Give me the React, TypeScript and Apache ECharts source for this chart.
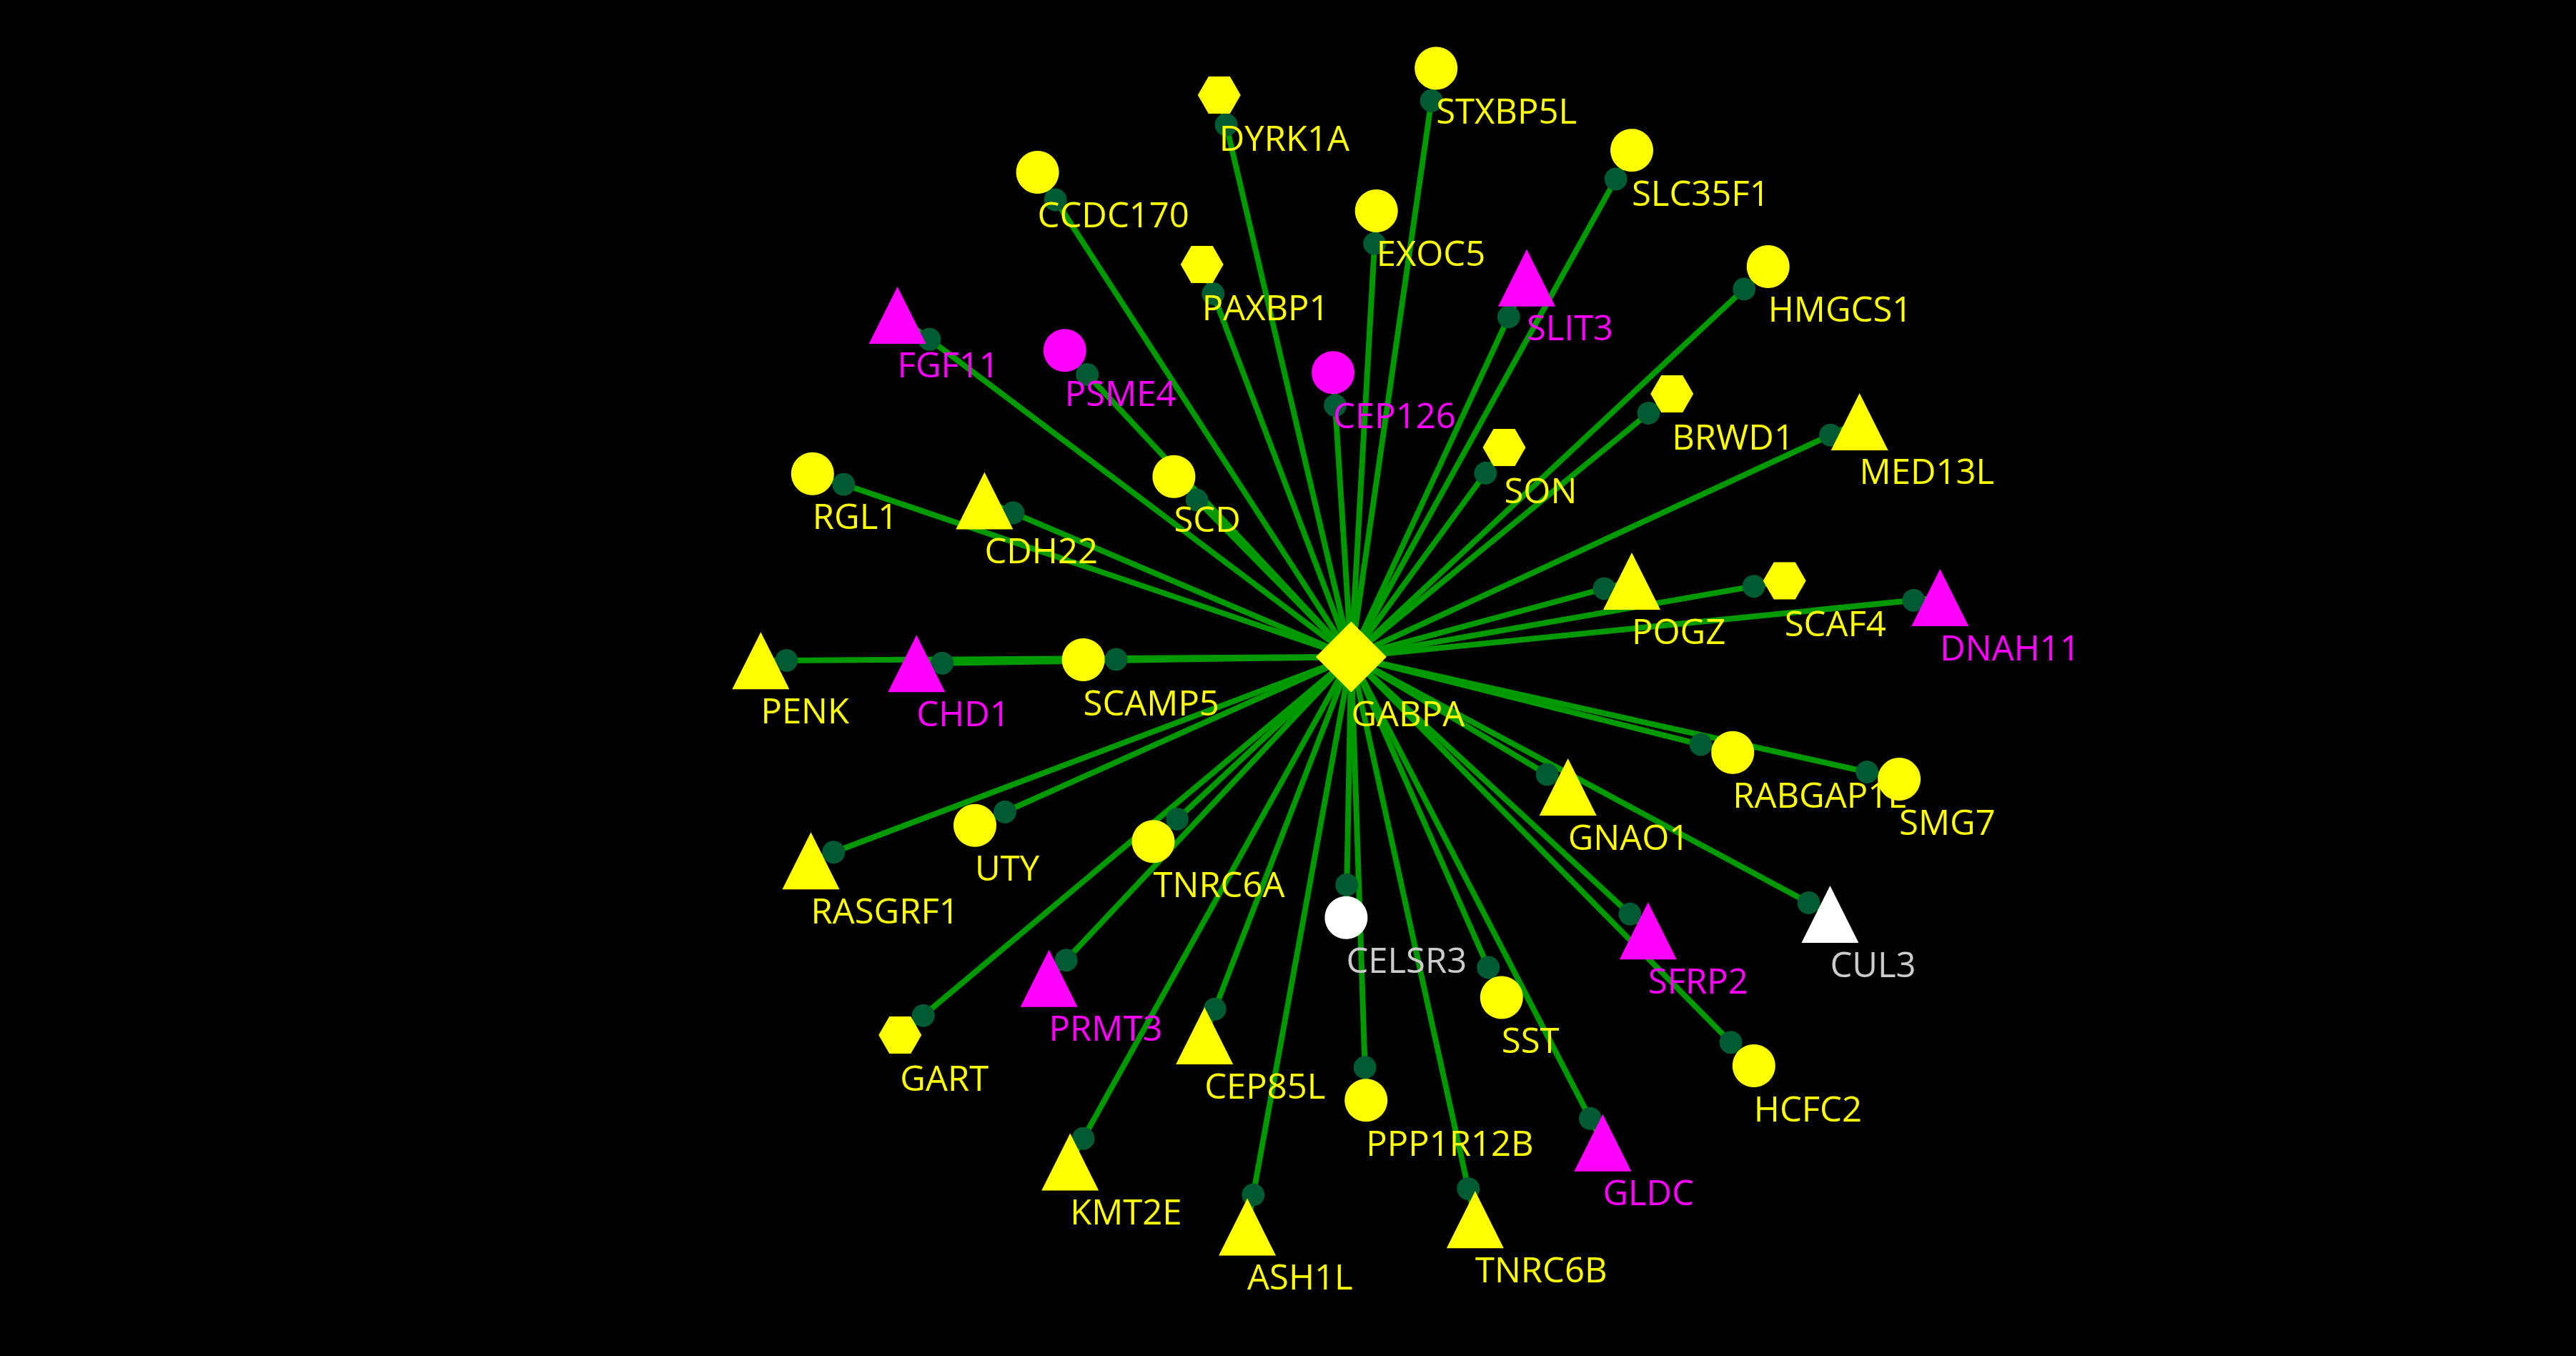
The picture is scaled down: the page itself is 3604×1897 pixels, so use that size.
import React, { useEffect, useRef } from "react";
import * as echarts from "echarts";

// ---------- data ----------
const HUB = "GABPA";

const nodeNames = [
  "GABPA", "STXBP5L", "DYRK1A", "SLC35F1", "CCDC170", "EXOC5", "HMGCS1", "PAXBP1",
  "SLIT3", "FGF11", "PSME4", "CEP126", "BRWD1", "MED13L", "SON", "RGL1",
  "SCD", "CDH22", "POGZ", "SCAF4", "DNAH11", "PENK", "CHD1", "SCAMP5",
  "RABGAP1L", "SMG7", "GNAO1", "UTY", "RASGRF1", "TNRC6A", "CELSR3", "CUL3",
  "SFRP2", "PRMT3", "GART", "SST", "CEP85L", "HCFC2", "PPP1R12B", "GLDC",
  "KMT2E", "ASH1L", "TNRC6B",
];

// layout positions of the network (x to the right, y downwards)
const nodeX = [
  1890.4, 2009.2, 1705.8, 2283.0, 1451.6, 1925.7, 2473.7, 1681.7,
  2136.0, 1255.6, 1489.8, 1865.1, 2339.2, 2601.6, 2104.5, 1136.8,
  1642.4, 1377.4, 2283.0, 2496.7, 2714.3, 1064.4, 1282.3, 1515.6,
  2424.2, 2657.1, 2193.7, 1364.0, 1134.5, 1613.5, 1883.4, 2560.4,
  2305.8, 1467.6, 1259.3, 2100.8, 1685.2, 2453.8, 1911.2, 2242.4,
  1497.2, 1745.1, 2063.9,
];
const nodeY = [
  918.9, 95.4, 133.0, 210.2, 240.9, 294.9, 372.9, 370.0,
  388.7, 440.9, 490.3, 521.3, 551.1, 589.9, 626.0, 662.8,
  666.8, 700.4, 813.0, 812.6, 836.1, 924.2, 928.3, 923.0,
  1052.8, 1090.1, 1101.0, 1154.7, 1204.3, 1177.3, 1283.8, 1279.0,
  1302.2, 1368.8, 1448.0, 1395.5, 1449.1, 1491.0, 1539.2, 1598.7,
  1625.6, 1716.6, 1706.3,
];
const nodeShapes = [
  "diamond", "circle", "hexagon", "circle", "circle", "circle", "circle", "hexagon",
  "triangle", "triangle", "circle", "circle", "hexagon", "triangle", "hexagon", "circle",
  "circle", "triangle", "triangle", "hexagon", "triangle", "triangle", "triangle", "circle",
  "circle", "circle", "triangle", "circle", "triangle", "circle", "circle", "triangle",
  "triangle", "triangle", "hexagon", "circle", "triangle", "circle", "circle", "triangle",
  "triangle", "triangle", "triangle",
];
const nodeGroups = [
  "Y", "Y", "Y", "Y", "Y", "Y", "Y", "Y",
  "M", "M", "M", "M", "Y", "Y", "Y", "Y",
  "Y", "Y", "Y", "Y", "M", "Y", "M", "Y",
  "Y", "Y", "Y", "Y", "Y", "Y", "W", "W",
  "M", "M", "Y", "Y", "Y", "Y", "Y", "M",
  "Y", "Y", "Y",
];

// ---------- styles ----------
const VIEW_W = 3604;
const VIEW_H = 1897;

const SYMBOLS: Record<string, string> = {
  circle: "circle",
  triangle: "triangle",
  diamond: "diamond",
  hexagon: "path://M0,26L15,0L45,0L60,26L45,52L15,52Z",
};
const SIZES: Record<string, number[]> = {
  circle: [60, 60],
  triangle: [80, 80],
  diamond: [99, 99],
  hexagon: [60, 52],
};
const LABEL_BOX: Record<string, number[]> = {
  circle: [60, 60],
  triangle: [80, 80],
  diamond: [99, 99],
  hexagon: [60, 60],
};
const FILLS: Record<string, string> = { Y: "#ffff00", M: "#ff00ff", W: "#ffffff" };
const TEXT_COLORS: Record<string, string> = { Y: "#ffff00", M: "#ff00ff", W: "#cccccc" };
const EDGE_COLOR = "#009900";
const DOT_COLOR = "#005a32";
const DOT_SIZE = 32;
const EDGE_WIDTH = 8;
const FONT = "'Open Sans', 'Noto Sans', sans-serif";
const FONT_SIZE = 49;

function outline(shape: string): number[][] {
  const [w, h] = SIZES[shape];
  if (shape === "triangle") return [[0, -h / 2], [w / 2, h / 2], [-w / 2, h / 2]];
  if (shape === "hexagon")
    return [[-w / 2, 0], [-w / 4, -h / 2], [w / 4, -h / 2], [w / 2, 0], [w / 4, h / 2], [-w / 4, h / 2]];
  return [[0, -h / 2], [w / 2, 0], [0, h / 2], [-w / 2, 0]];
}

// distance from the node centre to its outline along direction (dx, dy)
function boundaryDistance(shape: string, dx: number, dy: number): number {
  if (shape === "circle") return SIZES.circle[0] / 2;
  const pts = outline(shape);
  let best = Infinity;
  for (let i = 0; i < pts.length; i++) {
    const p1 = pts[i];
    const p2 = pts[(i + 1) % pts.length];
    const ex = p2[0] - p1[0];
    const ey = p2[1] - p1[1];
    const denom = dx * ey - dy * ex;
    if (Math.abs(denom) < 1e-9) continue;
    const t = (p1[0] * ey - p1[1] * ex) / denom;
    const s = (p1[0] * dy - p1[1] * dx) / denom;
    if (t > 0 && s >= -1e-9 && s <= 1 + 1e-9 && t < best) best = t;
  }
  return isFinite(best) ? best : 0;
}

export default function App() {
  const ref = useRef<HTMLDivElement>(null);

  useEffect(() => {
    document.body.style.margin = "0";
    document.body.style.background = "#000000";
    const el = ref.current;
    if (!el) return;
    const chart = echarts.init(el, undefined, { renderer: "svg" });

    const hubIdx = nodeNames.indexOf(HUB);
    const hx = nodeX[hubIdx];
    const hy = nodeY[hubIdx];

    const links = nodeNames
      .filter((n) => n !== HUB)
      .map((n) => ({ source: HUB, target: n }));

    const base = {
      type: "graph",
      coordinateSystem: "cartesian2d",
      xAxisIndex: 0,
      yAxisIndex: 0,
      layout: "none",
      silent: true,
      roam: false,
      animation: false,
      emphasis: { disabled: true },
    };

    const edgeNodes = nodeNames.map((n, i) => ({ name: n, value: [nodeX[i], nodeY[i]] }));

    const dotNodes = nodeNames.map((n, i) => {
      const dx = hx - nodeX[i];
      const dy = hy - nodeY[i];
      const len = Math.hypot(dx, dy) || 1;
      const b = boundaryDistance(nodeShapes[i], dx / len, dy / len);
      return { name: n, value: [nodeX[i], nodeY[i]], symbolSize: 2 * (b + DOT_SIZE / 2) };
    });

    const labelNodes = nodeNames.map((n, i) => ({
      name: n,
      value: [nodeX[i], nodeY[i]],
      symbol: "rect",
      symbolSize: LABEL_BOX[nodeShapes[i]],
      itemStyle: { color: "rgba(0,0,0,0)" },
      label: { color: TEXT_COLORS[nodeGroups[i]] },
    }));

    const shapeNodes = nodeNames.map((n, i) => ({
      name: n,
      value: [nodeX[i], nodeY[i]],
      symbol: SYMBOLS[nodeShapes[i]],
      symbolSize: SIZES[nodeShapes[i]],
      itemStyle: { color: FILLS[nodeGroups[i]], opacity: 1 },
    }));

    chart.setOption({
      animation: false,
      backgroundColor: "#000000",
      grid: { left: 0, right: 0, top: 0, bottom: 0, containLabel: false },
      xAxis: { type: "value", min: 0, max: VIEW_W, show: false },
      yAxis: { type: "value", min: 0, max: VIEW_H, inverse: true, show: false },
      tooltip: { show: false },
      series: [
        {
          ...base,
          id: "edges",
          z: 1,
          symbol: "none",
          symbolSize: 1,
          data: edgeNodes,
          links,
          label: { show: false },
          lineStyle: { color: EDGE_COLOR, width: EDGE_WIDTH, opacity: 1, curveness: 0 },
        },
        {
          ...base,
          id: "arrowDots",
          z: 2,
          symbol: "none",
          data: dotNodes,
          links,
          label: { show: false },
          edgeSymbol: ["none", "circle"],
          edgeSymbolSize: DOT_SIZE,
          lineStyle: { color: DOT_COLOR, width: 0, opacity: 1, curveness: 0 },
        },
        {
          ...base,
          id: "labels",
          z: 3,
          data: labelNodes,
          links: [],
          label: {
            show: true,
            position: "bottom",
            distance: 4,
            align: "left",
            fontFamily: FONT,
            fontSize: FONT_SIZE,
            fontWeight: "normal",
            opacity: 1,
            formatter: "{b}",
          },
        },
        {
          ...base,
          id: "nodes",
          z: 4,
          data: shapeNodes,
          links: [],
          label: { show: false },
        },
      ],
    });

    return () => {
      chart.dispose();
    };
  }, []);

  return (
    <div
      style={{
        position: "fixed",
        left: 0,
        top: 0,
        width: VIEW_W + "px",
        height: VIEW_H + "px",
        background: "#000000",
        overflow: "hidden",
      }}
    >
      <div ref={ref} style={{ width: VIEW_W + "px", height: VIEW_H + "px" }} />
    </div>
  );
}
